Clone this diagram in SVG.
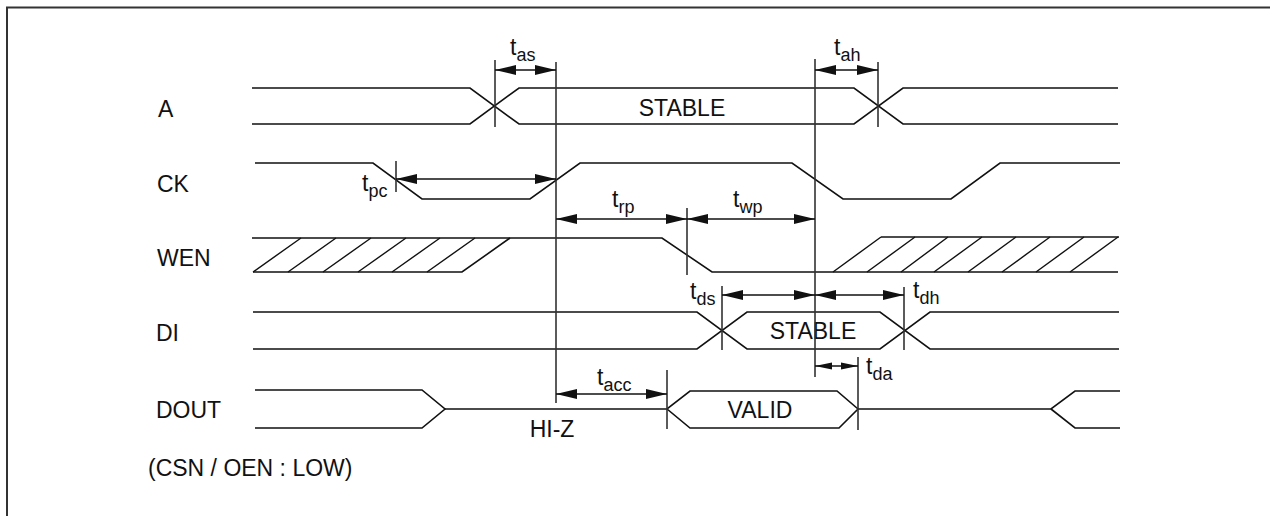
<svg xmlns="http://www.w3.org/2000/svg" width="1270" height="516" viewBox="0 0 1270 516">
<style>
.frame{fill:none;stroke:#333;stroke-width:2}
.sig{fill:none;stroke:#111;stroke-width:1.6;stroke-linejoin:miter}
.hatch{fill:none;stroke:#111;stroke-width:1.4}
.ref{fill:none;stroke:#333;stroke-width:1.6}
.dim{fill:none;stroke:#111;stroke-width:1.4;marker-start:url(#ah);marker-end:url(#ah)}
.dims{fill:none;stroke:#111;stroke-width:1.4;marker-start:url(#ahs);marker-end:url(#ahs)}
text{font-family:"Liberation Sans",Arial,sans-serif;font-size:23px;fill:#111}
.sub{font-size:18px}
</style>
<defs>
<marker id="ah" markerUnits="userSpaceOnUse" markerWidth="21" markerHeight="11" refX="21" refY="5.5" orient="auto-start-reverse"><path d="M0,0.5 L21,5.5 L0,10.5 z" fill="#111"/></marker>
<marker id="ahs" markerUnits="userSpaceOnUse" markerWidth="17" markerHeight="8" refX="17" refY="4" orient="auto-start-reverse"><path d="M0,0.5 L17,4 L0,7.5 z" fill="#111"/></marker>
</defs>
<rect width="1270" height="516" fill="#fff"/>
<g id="frame">
<path class="frame" d="M7,516 V7.5 H1270"/>
</g>
<g id="sig-A">
<text x="158" y="117">A</text>
<path class="sig" d="M252,88 H470 L519,124 H854 L903,88 H1118"/>
<path class="sig" d="M252,124 H470 L519,88 H854 L903,124 H1118"/>
<text x="682" y="116" text-anchor="middle">STABLE</text>
</g>
<g id="sig-CK">
<text x="157" y="192">CK</text>
<path class="sig" d="M255,163 H373 L422,199 H530 L580,163 H792 L843,199 H951 L1000,163 H1120"/>
</g>
<g id="sig-WEN">
<text x="157" y="266">WEN</text>
<path class="sig" d="M252,238 H662 L712,272 H1118"/>
<path class="sig" d="M253,272 H462 L510,238"/>
<path class="sig" d="M881,237 H1119"/>
<path class="hatch" d="M253,272 L301,238 M288,272 L336,238 M323,272 L371,238 M358,272 L406,238 M392,272 L440,238 M427,272 L475,238 M833,272 L881,237 M867,272 L915,237 M901,272 L948,237 M934,272 L982,237 M968,272 L1016,237 M1002,272 L1050,237 M1036,272 L1084,237 M1070,272 L1118,237"/>
</g>
<g id="sig-DI">
<text x="156" y="341">DI</text>
<path class="sig" d="M253,312 H697 L747,349 H880 L930,312 H1119"/>
<path class="sig" d="M253,349 H697 L747,312 H880 L930,349 H1119"/>
<text x="813" y="339" text-anchor="middle">STABLE</text>
</g>
<g id="sig-DOUT">
<text x="156" y="418">DOUT</text>
<path class="sig" d="M255,390 H422 L445,409 L422,428 H255"/>
<path class="sig" d="M445,409 H667 L690,391 H837 L858,409 L839,428 H690 L667,409 Z"/>
<path class="sig" d="M858,409 H1051 L1075,391 H1120 M1051,409 L1075,428 H1120"/>
<text x="552" y="437" text-anchor="middle">HI-Z</text>
<text x="760" y="418" text-anchor="middle">VALID</text>
</g>
<g id="note">
<text x="148" y="476">(CSN / OEN : LOW)</text>
</g>
<g id="connectors">
<path class="ref" d="M495,60 V127 M556,62 V403 M815,59 V377 M878,62 V127 M396,161 V192 M687,208 V275 M722,286 V350 M904,287 V350 M667,370 V429 M858,357 V430"/>
<line class="dim" x1="495" y1="70" x2="556" y2="70"/>
<line class="dim" x1="815" y1="70" x2="878" y2="70"/>
<line class="dim" x1="396" y1="179" x2="556" y2="179"/>
<line class="dim" x1="556" y1="219" x2="687" y2="219"/>
<line class="dim" x1="687" y1="219" x2="815" y2="219"/>
<line class="dim" x1="722" y1="295" x2="815" y2="295"/>
<line class="dim" x1="815" y1="295" x2="904" y2="295"/>
<line class="dims" x1="815" y1="366" x2="858" y2="366"/>
<line class="dim" x1="556" y1="394" x2="667" y2="394"/>
</g>
<g id="labels">
<text x="510" y="55">t<tspan class="sub" dy="6">as</tspan></text>
<text x="834" y="55">t<tspan class="sub" dy="6">ah</tspan></text>
<text x="362" y="191">t<tspan class="sub" dy="6">pc</tspan></text>
<text x="612" y="207">t<tspan class="sub" dy="6">rp</tspan></text>
<text x="733" y="207">t<tspan class="sub" dy="6">wp</tspan></text>
<text x="690" y="299">t<tspan class="sub" dy="6">ds</tspan></text>
<text x="913" y="298">t<tspan class="sub" dy="6">dh</tspan></text>
<text x="866" y="374">t<tspan class="sub" dy="6">da</tspan></text>
<text x="597" y="385">t<tspan class="sub" dy="6">acc</tspan></text>
</g>
</svg>
